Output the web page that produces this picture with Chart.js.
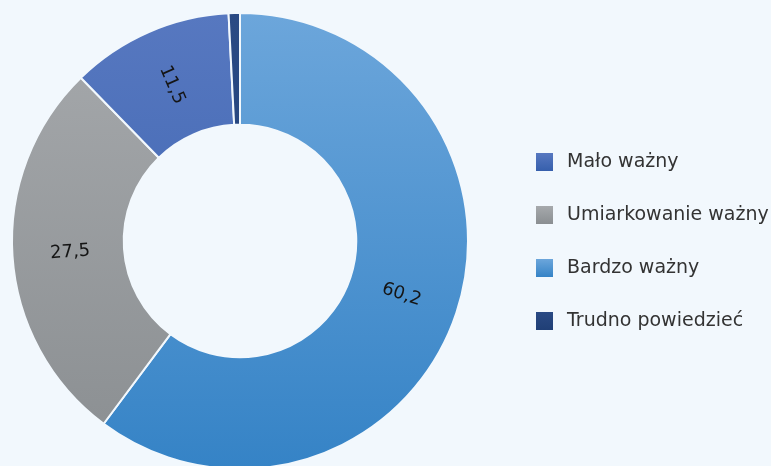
<!DOCTYPE html>
<html lang="pl">
<head>
<meta charset="utf-8">
<script src="https://cdn.jsdelivr.net/npm/chart.js@4/dist/chart.umd.min.js"></script>
<style>
  html, body { margin: 0; padding: 0; background: #f2f8fd; }
  #wrap { width: 771px; height: 466px; }
</style>
</head>
<body>
<div id="wrap"><canvas id="myChart" width="771" height="466"></canvas></div>
<script>
// legend order
const kategorie = ['Mało ważny', 'Umiarkowanie ważny', 'Bardzo ważny', 'Trudno powiedzieć'];
const wartosci = [11.5, 27.5, 60.2, 0.8];
// clockwise order from 12 o'clock
const kolejnosc = [2, 1, 0, 3];
// top / bottom shades of each category
const koloryGora = ['#5778c0', '#a6a9ac', '#6ca6db', '#2a4a84'];
const koloryDol = ['#365fac', '#8a8e91', '#3583c6', '#203f76'];

const FONT = '"DejaVu Sans", sans-serif';

function gradient(chart, i) {
  const area = chart.chartArea;
  if (!area) return koloryDol[i];
  const ctx = chart.ctx;
  const g = ctx.createLinearGradient(0, 13, 0, 469);
  g.addColorStop(0, koloryGora[i]);
  g.addColorStop(1, koloryDol[i]);
  return g;
}

const etykiety = {
  id: 'etykiety',
  afterDatasetsDraw(chart) {
    const ctx = chart.ctx;
    const meta = chart.getDatasetMeta(0);
    ctx.save();
    ctx.font = '18px ' + FONT;
    ctx.fillStyle = '#151515';
    ctx.textAlign = 'center';
    ctx.textBaseline = 'middle';
    meta.data.forEach((arc, j) => {
      const v = chart.data.datasets[0].data[j];
      if (v < 5) return;
      const p = arc.getProps(['x', 'y', 'startAngle', 'endAngle', 'innerRadius', 'outerRadius'], true);
      const a = (p.startAngle + p.endAngle) / 2;
      const r = (p.innerRadius + p.outerRadius) / 2 - 2;
      const x = p.x + Math.cos(a) * r;
      const y = p.y + Math.sin(a) * r;
      let rot = Math.atan2(Math.sin(a), Math.cos(a));
      if (rot > Math.PI / 2) rot -= Math.PI;
      if (rot <= -Math.PI / 2) rot += Math.PI;
      ctx.save();
      ctx.translate(x, y);
      ctx.rotate(rot);
      ctx.fillText(v.toString().replace('.', ','), 0, 0);
      ctx.restore();
    });
    ctx.restore();
  }
};

const legenda = {
  id: 'legenda',
  afterDraw(chart) {
    const ctx = chart.ctx;
    ctx.save();
    ctx.font = '19px ' + FONT;
    ctx.textBaseline = 'middle';
    kategorie.forEach((k, i) => {
      const y = 162 + i * 53;
      const g = ctx.createLinearGradient(0, y - 9, 0, y + 9);
      g.addColorStop(0, koloryGora[i]);
      g.addColorStop(1, koloryDol[i]);
      ctx.fillStyle = g;
      ctx.fillRect(536, y - 9, 17, 18);
      ctx.fillStyle = '#333333';
      ctx.fillText(k, 567, y);
    });
    ctx.restore();
  }
};

const canvas = document.getElementById('myChart');
new Chart(canvas.getContext('2d'), {
  type: 'doughnut',
  data: {
    labels: kolejnosc.map(i => kategorie[i]),
    datasets: [{
      data: kolejnosc.map(i => wartosci[i]),
      backgroundColor: (c) => gradient(c.chart, kolejnosc[c.dataIndex]),
      borderColor: '#f2f8fd',
      borderWidth: 2,
      radius: 228,
      clip: false
    }]
  },
  options: {
    responsive: false,
    animation: false,
    cutout: '51%',
    rotation: 0,
    layout: { padding: { left: 12, right: 303, top: 16, bottom: 0 } },
    plugins: {
      legend: { display: false },
      tooltip: { enabled: false }
    }
  },
  plugins: [etykiety, legenda]
});
</script>
</body>
</html>
